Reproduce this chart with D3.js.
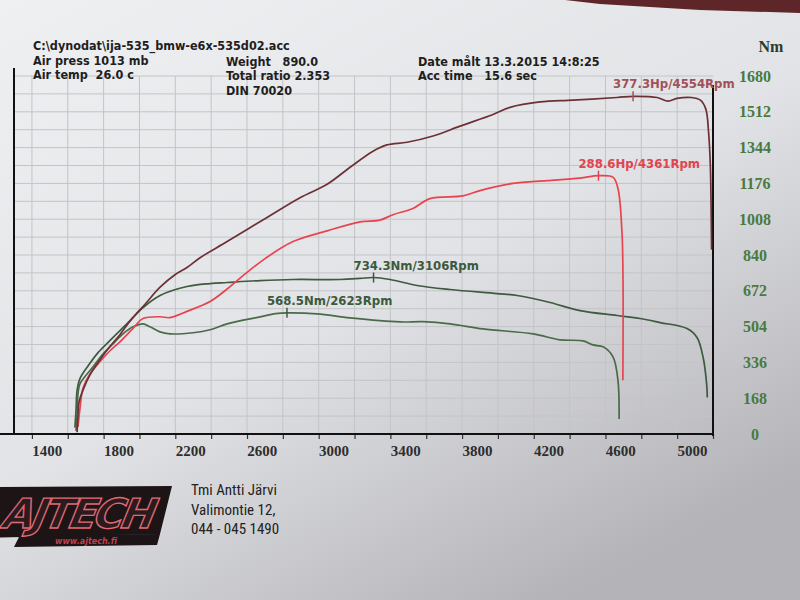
<!DOCTYPE html>
<html lang="fi">
<head>
<meta charset="utf-8">
<title>Dyno</title>
<script src="https://cdn.jsdelivr.net/npm/d3@7/dist/d3.min.js"></script>
<style>
  body { margin: 0; background: #e4e5e8; }
  svg { display: block; }
  .hdr { font-family: "DejaVu Sans Condensed", "DejaVu Sans", sans-serif; font-size: 12.5px; font-weight: bold; fill: #1e1e1e; white-space: pre; }
  .peak { font-family: "DejaVu Sans Condensed", "DejaVu Sans", sans-serif; font-size: 13px; font-weight: bold; }
  .xlab text { font-family: "Liberation Serif", serif; font-size: 15px; font-weight: bold; fill: #2e2e2e; }
  .ylab text { font-family: "Liberation Serif", serif; font-size: 16px; font-weight: bold; fill: #4a7a3e; }
  .addr { font-family: "Liberation Sans Narrow", "Roboto Condensed", Roboto, sans-serif; font-size: 15px; fill: #222; }
</style>
</head>
<body>
<svg width="800" height="600"></svg>
<script>
// --- data (rpm / value) ---
var tunedTorqueRpm = [1440,1446,1452,1468,1507,1569,1636,1731,1820,1915,2065,2194,2289,2473,2657,2919,3031,3106,3198,3349,3533,3795,3907,4091,4258,4465,4593,4705,4855,4911,4945,4961,4967,4968];
var tunedTorqueNm  = [30,110,204,260,312,382,439,518,593,650,692,706,711,720,725,725,730,734.3,725,697,678,659,650,617,579,556,542,523,495,453,359,265,204,171];

var stockTorqueRpm = [1446,1452,1457,1468,1541,1597,1652,1708,1764,1820,1859,1915,1970,2099,2194,2289,2473,2560,2623,2791,2975,3254,3382,3533,3717,3996,4147,4275,4331,4387,4442,4470,4476];
var stockTorqueNm  = [15,94,188,235,315,376,423,470,503,517,503,479,470,475,489,517,550,565,568.5,564,545,526,527,517,493,470,442,437,418,409,362,249,70];

var tunedPowerRpm = [1452,1457,1463,1485,1524,1580,1636,1691,1747,1831,1915,1998,2065,2138,2289,2512,2696,2847,2975,3103,3181,3293,3438,3589,3773,3868,4035,4219,4465,4554,4688,4749,4799,4880,4930,4960,4975,4985,4990,4992];
var tunedPowerHp  = [2,21,36,49,66,83,98,111,126,145,164,178,186,197,215,242,264,279,298,316,323,326,333,344,357,365,371,373,376,377.3,376,372,375,376,373,363,338,301,245,206];

var stockPowerRpm = [1457,1468,1485,1524,1580,1636,1691,1764,1820,1915,1970,2065,2194,2289,2378,2501,2657,2847,3031,3142,3214,3326,3421,3605,3700,3884,4074,4258,4361,4442,4470,4492,4498,4498,4497];
var stockPowerHp  = [8,28,51,67,81,93,103,118,129,131,130,137,148,162,177,196,215,227,237,239,245,252,263,266,272,280,283,286,288.6,287,274,226,170,96,60];

var xLabels = [1400,1800,2200,2600,3000,3400,3800,4200,4600,5000];
var nmLabels = [0,168,336,504,672,840,1008,1176,1344,1512,1680];

var peaks = [
  {text: "377.3Hp/4554Rpm", rpm: 4554, val: 377.3, hp: true,  color: "#a0525a"},
  {text: "288.6Hp/4361Rpm", rpm: 4361, val: 288.6, hp: true,  color: "#e0454f"},
  {text: "734.3Nm/3106Rpm", rpm: 3106, val: 734.3, hp: false, color: "#3c5a3c"},
  {text: "568.5Nm/2623Rpm", rpm: 2623, val: 568.5, hp: false, color: "#3c5a3c"}
];

var header = [
  ["C:\\dynodat\\ija-535_bmw-e6x-535d02.acc", 33, 50],
  ["Air press 1013 mb", 33, 65],
  ["Air temp  26.0 c", 33, 79],
  ["Weight   890.0", 226, 66],
  ["Total ratio 2.353", 226, 80],
  ["DIN 70020", 226, 95],
  ["Date målt 13.3.2015 14:8:25", 418, 66],
  ["Acc time   15.6 sec", 418, 80]
];

var address = ["Tmi Antti Järvi", "Valimontie 12,", "044 - 045 1490"];

// hp are drawn on the Nm scale, 400 Hp = 1680 Nm
var hpFactor = 1680 / 400;

var svg = d3.select("svg");

// paper
var defs = svg.append("defs");
var grad = defs.append("linearGradient").attr("id", "paper")
    .attr("x1", "0").attr("y1", "0").attr("x2", "0.7").attr("y2", "1");
grad.append("stop").attr("offset", "0").attr("stop-color", "#eff0f2");
grad.append("stop").attr("offset", "0.55").attr("stop-color", "#e2e3e6");
grad.append("stop").attr("offset", "1").attr("stop-color", "#b4b4b8");
svg.append("rect").attr("width", 800).attr("height", 600).attr("fill", "url(#paper)");
svg.append("path").attr("d", "M565,0 L800,0 L800,13 L700,10 L600,4 Z").attr("fill", "#5e2628");

var x = d3.scaleLinear().domain([1100, 5000]).range([14, 713]);
var y = d3.scaleLinear().domain([0, 1680]).range([434, 76]);

// grid
var g = svg.append("g");
g.selectAll(".vg").data(d3.range(1200, 5000, 200)).enter().append("line")
    .attr("x1", function(d) { return x(d); }).attr("x2", function(d) { return x(d); })
    .attr("y1", y(1680)).attr("y2", y(0))
    .attr("stroke", "#c2c4c6").attr("stroke-width", 1);
g.selectAll(".hg").data(d3.range(84, 1681, 84)).enter().append("line")
    .attr("x1", x(1100)).attr("x2", x(5000))
    .attr("y1", function(d) { return y(d); }).attr("y2", function(d) { return y(d); })
    .attr("stroke", "#c2c4c6").attr("stroke-width", 1);

// axes
var xAxis = svg.append("g").attr("class", "xlab")
    .attr("transform", "translate(0," + y(0) + ")")
    .call(d3.axisBottom(x).tickValues(d3.range(1200, 5001, 200)).tickSize(5)
        .tickFormat(function(d) { return xLabels.indexOf(d) >= 0 ? d : ""; }));
xAxis.select(".domain").remove();
xAxis.selectAll(".tick line").attr("stroke", "#333").attr("stroke-width", 1.2);
xAxis.selectAll(".tick text").attr("x", -21).attr("dy", "0.95em");

svg.append("line").attr("x1", 0).attr("x2", x(5000)).attr("y1", y(0)).attr("y2", y(0))
    .attr("stroke", "#111").attr("stroke-width", 2);
svg.append("line").attr("x1", x(1100)).attr("x2", x(1100)).attr("y1", 68).attr("y2", y(0))
    .attr("stroke", "#111").attr("stroke-width", 2);
svg.append("line").attr("x1", x(5000)).attr("x2", x(5000)).attr("y1", 85).attr("y2", y(0) + 2)
    .attr("stroke", "#111").attr("stroke-width", 2);

var yAxis = svg.append("g").attr("class", "ylab")
    .attr("transform", "translate(" + x(5000) + ",0)")
    .call(d3.axisRight(y).tickValues(nmLabels).tickSize(0).tickFormat(d3.format("d")));
yAxis.select(".domain").remove();
yAxis.selectAll(".tick text").attr("x", 42).attr("text-anchor", "middle");
yAxis.append("text").attr("x", 58).attr("y", 52).attr("text-anchor", "middle")
    .style("font-size", "16px").style("fill", "#2f3a2f").text("Nm");

// curves
function series(rpm, vals, factor) {
  return rpm.map(function(r, i) { return [r, vals[i] * factor]; });
}
var line = d3.line()
    .x(function(d) { return x(d[0]); })
    .y(function(d) { return y(d[1]); })
    .curve(d3.curveCatmullRom.alpha(0.5));

var curves = [
  {data: series(tunedTorqueRpm, tunedTorqueNm, 1), color: "#3e5a3f"},
  {data: series(stockTorqueRpm, stockTorqueNm, 1), color: "#4a6b4a"},
  {data: series(stockPowerRpm, stockPowerHp, hpFactor), color: "#e8444f"},
  {data: series(tunedPowerRpm, tunedPowerHp, hpFactor), color: "#6c3135"}
];
svg.selectAll(".curve").data(curves).enter().append("path")
    .attr("d", function(d) { return line(d.data); })
    .attr("fill", "none")
    .attr("stroke", function(d) { return d.color; })
    .attr("stroke-width", 1.7);

// peak markers
var pk = svg.selectAll(".pk").data(peaks).enter().append("g");
pk.append("line")
    .attr("x1", function(d) { return x(d.rpm); }).attr("x2", function(d) { return x(d.rpm); })
    .attr("y1", function(d) { return y(d.hp ? d.val * hpFactor : d.val) - 5; })
    .attr("y2", function(d) { return y(d.hp ? d.val * hpFactor : d.val) + 5; })
    .attr("stroke", function(d) { return d.color; }).attr("stroke-width", 1.5);
pk.append("text").attr("class", "peak")
    .attr("x", function(d) { return x(d.rpm) - 20; })
    .attr("y", function(d) { return y(d.hp ? d.val * hpFactor : d.val) - 8; })
    .attr("fill", function(d) { return d.color; })
    .text(function(d) { return d.text; });

// header
svg.selectAll(".hdr").data(header).enter().append("text").attr("class", "hdr")
    .attr("x", function(d) { return d[1]; }).attr("y", function(d) { return d[2]; })
    .text(function(d) { return d[0]; });

// logo
var logo = svg.append("g");
logo.append("path").attr("d", "M-10,487 L172,486 L160,534 L-20,538 Z")
    .attr("fill", "#1d1416");
logo.append("path").attr("d", "M20,535 L160,534 L157,545 L14,547 Z").attr("fill", "#1d1416");
logo.append("text").attr("x", 4).attr("y", 528)
    .attr("font-family", "DejaVu Sans, sans-serif").attr("font-weight", "bold")
    .attr("font-style", "italic").attr("font-size", 41).attr("letter-spacing", -3)
    .attr("fill", "#2b1b1e").attr("stroke", "#e06a74").attr("stroke-width", 1.4)
    .attr("transform", "skewX(-12) translate(110,0)")
    .text("AJTECH");
logo.append("text").attr("x", 86).attr("y", 544).attr("text-anchor", "middle")
    .attr("font-family", "DejaVu Sans, sans-serif").attr("font-weight", "bold")
    .attr("font-style", "italic").attr("font-size", 8).attr("fill", "#c0404c")
    .text("www.ajtech.fi");

// address
svg.selectAll(".addr").data(address).enter().append("text").attr("class", "addr")
    .attr("x", 191).attr("y", function(d, i) { return 495 + i * 19.5; })
    .text(function(d) { return d; });
</script>
</body>
</html>
